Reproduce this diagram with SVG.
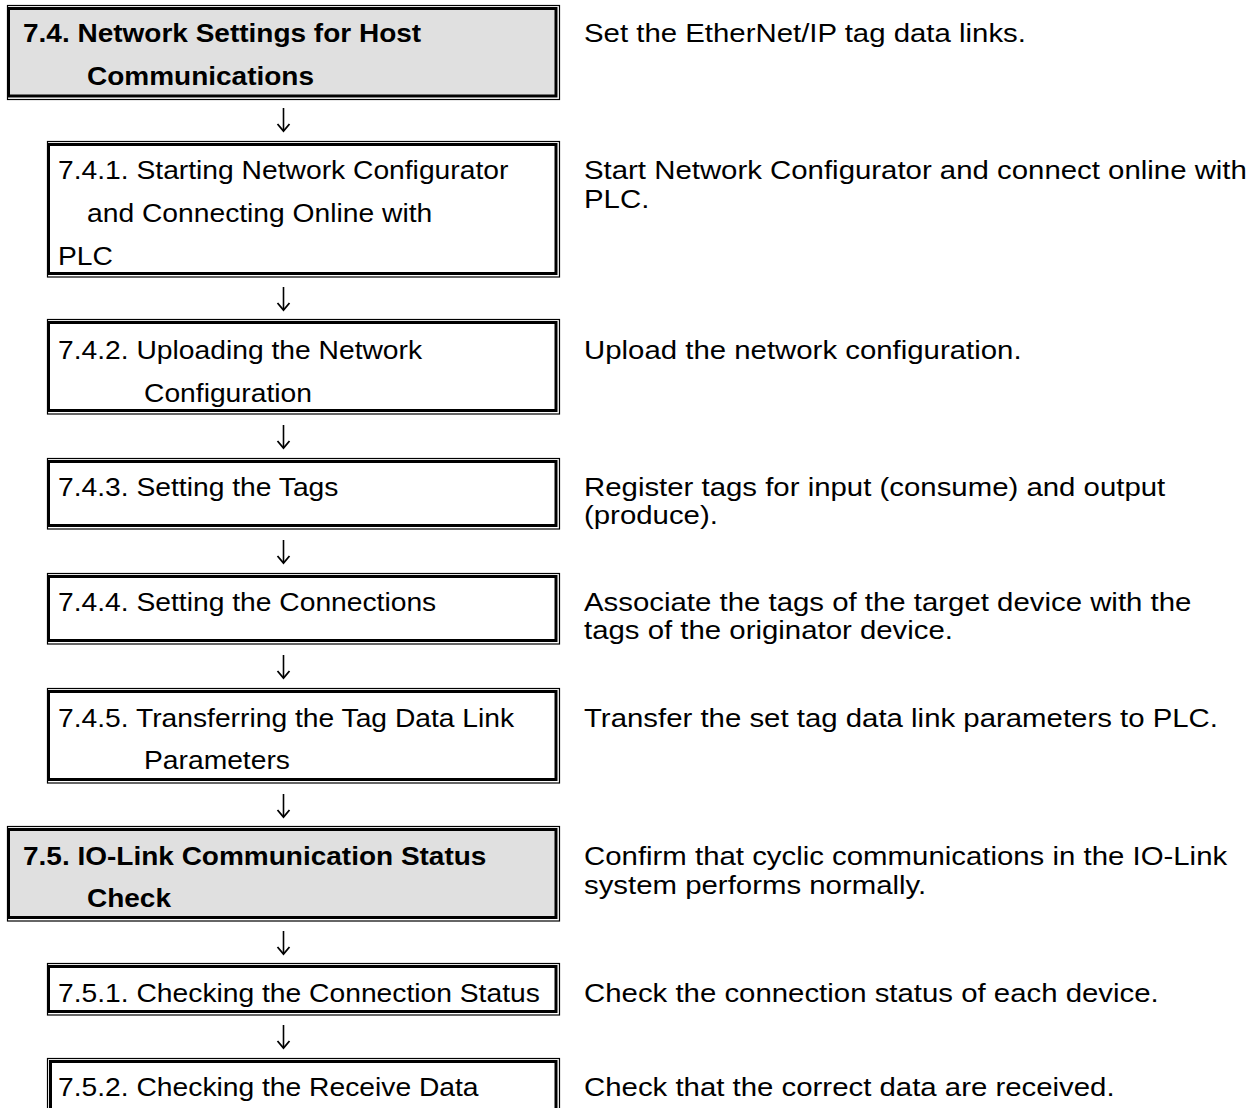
<svg xmlns="http://www.w3.org/2000/svg" width="1254" height="1108" viewBox="0 0 1254 1108">
<style>
.o{fill:none;stroke:#000;stroke-width:1.2}
.i{stroke:#000;stroke-width:3}
.w{fill:#fff}
.g{fill:#e0e0e0}
text{font-family:"Liberation Sans",Arial,sans-serif;font-size:25px;fill:#000}
.b{font-weight:bold}
.r{font-size:26px}
.c line{stroke:#000;stroke-width:1.6}
.c path{fill:none;stroke:#000;stroke-width:1.8}
</style>
<rect width="1254" height="1108" fill="#fff"/>
<g id="n74">
<rect class="i g" x="8.5" y="8.5" width="547.5" height="87.5"/>
<rect class="o" x="7.5" y="5.5" width="552" height="94"/>
<text class="b" transform="translate(23,42) scale(1.12,1)">7.4. Network Settings for Host</text>
<text class="b" transform="translate(87,85) scale(1.12,1)">Communications</text>
<text class="r" transform="translate(584,42) scale(1.13,1)">Set the EtherNet/IP tag data links.</text>
</g>
<g id="n741">
<rect class="i w" x="48.5" y="144.5" width="507.5" height="129"/>
<rect class="o" x="47.5" y="141.5" width="512" height="135.5"/>
<text transform="translate(58,179) scale(1.13,1)">7.4.1. Starting Network Configurator</text>
<text transform="translate(87,222) scale(1.13,1)">and Connecting Online with</text>
<text transform="translate(58,265) scale(1.13,1)">PLC</text>
<text class="r" transform="translate(584,179) scale(1.13,1)">Start Network Configurator and connect online with</text>
<text class="r" transform="translate(584,208) scale(1.13,1)">PLC.</text>
</g>
<g id="n742">
<rect class="i w" x="48.5" y="322.5" width="507.5" height="88"/>
<rect class="o" x="47.5" y="319.5" width="512" height="94.5"/>
<text transform="translate(58,359) scale(1.13,1)">7.4.2. Uploading the Network</text>
<text transform="translate(144,402) scale(1.13,1)">Configuration</text>
<text class="r" transform="translate(584,359) scale(1.13,1)">Upload the network configuration.</text>
</g>
<g id="n743">
<rect class="i w" x="48.5" y="461.5" width="507.5" height="64"/>
<rect class="o" x="47.5" y="458.5" width="512" height="70.5"/>
<text transform="translate(58,496) scale(1.13,1)">7.4.3. Setting the Tags</text>
<text class="r" transform="translate(584,496) scale(1.13,1)">Register tags for input (consume) and output</text>
<text class="r" transform="translate(584,524) scale(1.13,1)">(produce).</text>
</g>
<g id="n744">
<rect class="i w" x="48.5" y="576.5" width="507.5" height="64"/>
<rect class="o" x="47.5" y="573.5" width="512" height="70.5"/>
<text transform="translate(58,611) scale(1.13,1)">7.4.4. Setting the Connections</text>
<text class="r" transform="translate(584,611) scale(1.13,1)">Associate the tags of the target device with the</text>
<text class="r" transform="translate(584,639) scale(1.13,1)">tags of the originator device.</text>
</g>
<g id="n745">
<rect class="i w" x="48.5" y="691.5" width="507.5" height="88"/>
<rect class="o" x="47.5" y="688.5" width="512" height="94.5"/>
<text transform="translate(58,727) scale(1.13,1)">7.4.5. Transferring the Tag Data Link</text>
<text transform="translate(144,769) scale(1.13,1)">Parameters</text>
<text class="r" transform="translate(584,727) scale(1.13,1)">Transfer the set tag data link parameters to PLC.</text>
</g>
<g id="n75">
<rect class="i g" x="8.5" y="829.5" width="547.5" height="88"/>
<rect class="o" x="7.5" y="826.5" width="552" height="94.5"/>
<text class="b" transform="translate(23,865) scale(1.12,1)">7.5. IO-Link Communication Status</text>
<text class="b" transform="translate(87,907) scale(1.12,1)">Check</text>
<text class="r" transform="translate(584,865) scale(1.13,1)">Confirm that cyclic communications in the IO-Link</text>
<text class="r" transform="translate(584,894) scale(1.13,1)">system performs normally.</text>
</g>
<g id="n751">
<rect class="i w" x="48.5" y="966.5" width="507.5" height="45"/>
<rect class="o" x="47.5" y="963.5" width="512" height="51.5"/>
<text transform="translate(58,1002) scale(1.13,1)">7.5.1. Checking the Connection Status</text>
<text class="r" transform="translate(584,1002) scale(1.13,1)">Check the connection status of each device.</text>
</g>
<g id="n752">
<rect class="i w" x="50.5" y="1061.5" width="505.5" height="70"/>
<rect class="o" x="47.5" y="1058.5" width="512" height="76"/>
<text transform="translate(58,1096) scale(1.13,1)">7.5.2. Checking the Receive Data</text>
<text class="r" transform="translate(584,1096) scale(1.13,1)">Check that the correct data are received.</text>
</g>
<g id="connectors" class="c">
<line x1="283.5" y1="108" x2="283.5" y2="131"/><path d="M277.5 124 L283.5 131 L289.5 124"/>
<line x1="283.5" y1="287" x2="283.5" y2="310"/><path d="M277.5 303 L283.5 310 L289.5 303"/>
<line x1="283.5" y1="425" x2="283.5" y2="448"/><path d="M277.5 441 L283.5 448 L289.5 441"/>
<line x1="283.5" y1="540" x2="283.5" y2="563"/><path d="M277.5 556 L283.5 563 L289.5 556"/>
<line x1="283.5" y1="655" x2="283.5" y2="678"/><path d="M277.5 671 L283.5 678 L289.5 671"/>
<line x1="283.5" y1="794" x2="283.5" y2="817"/><path d="M277.5 810 L283.5 817 L289.5 810"/>
<line x1="283.5" y1="931" x2="283.5" y2="954"/><path d="M277.5 947 L283.5 954 L289.5 947"/>
<line x1="283.5" y1="1025" x2="283.5" y2="1048"/><path d="M277.5 1041 L283.5 1048 L289.5 1041"/>
</g>
</svg>
